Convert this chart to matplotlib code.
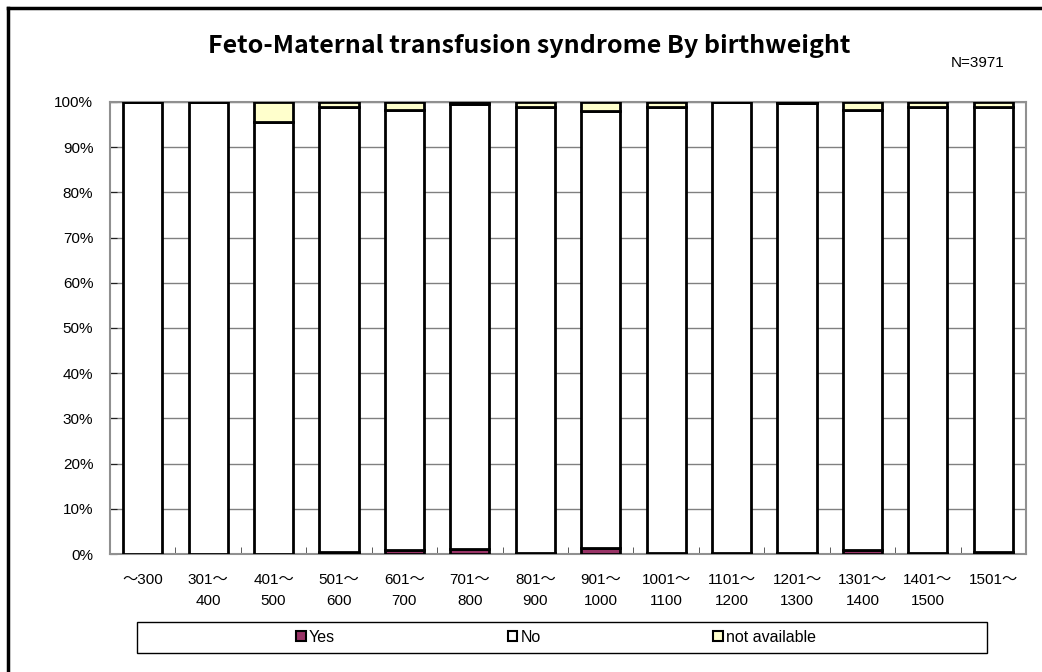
import numpy as np
import matplotlib.pyplot as plt
from matplotlib.lines import Line2D

# birthweight classes and percentages
categories = ['～300', '301～\n400', '401～\n500', '501～\n600', '601～\n700',
              '701～\n800', '801～\n900', '901～\n1000', '1001～\n1100',
              '1101～\n1200', '1201～\n1300', '1301～\n1400', '1401～\n1500', '1501～']
yes = [0, 0, 0, 0.4, 0.8, 1.1, 0.3, 1.4, 0.3, 0.2, 0.3, 0.9, 0.2, 0.5]
not_available = [0, 0, 4.4, 1.0, 1.8, 0.4, 1.0, 1.9, 1.0, 0, 0.3, 1.7, 1.2, 1.0]
no = [100 - y - n for y, n in zip(yes, not_available)]

fonts = ['Liberation Sans', 'Noto Sans CJK JP', 'DejaVu Sans']
plt.rcParams['font.family'] = fonts

fig = plt.figure(figsize=(10.42, 6.72), dpi=100)
ax = fig.add_axes([110 / 1042, 1 - 554 / 672, 916 / 1042, 452 / 672])

x = np.arange(len(categories))
w = 0.6
kw = dict(width=w, edgecolor='black', linewidth=2, zorder=3)
ax.bar(x, yes, color='#993366', label='Yes', **kw)
ax.bar(x, no, bottom=yes, color='white', label='No', **kw)
ax.bar(x, not_available, bottom=np.add(yes, no), color='#FFFFCC', label='not available', **kw)

ax.set_xlim(-0.5, len(categories) - 0.5)
ax.set_ylim(0, 100)
ax.set_yticks(np.arange(0, 101, 10))
ax.set_yticklabels([f'{v}%' for v in range(0, 101, 10)], fontsize=11)
ax.set_xticks(x)
ax.set_xticklabels(categories, fontsize=11, linespacing=1.6, va='top')
ax.tick_params(axis='x', which='major', length=0, pad=14)
ax.set_xticks(np.arange(0.5, len(categories) - 1, 1), minor=True)
ax.tick_params(axis='x', which='minor', direction='in', length=5, color='#404040')
ax.tick_params(axis='y', direction='in', length=5, color='#202020', pad=12)
ax.grid(axis='y', color='#808080', linewidth=1, zorder=0)
for s in ax.spines.values():
    s.set_color('#909090')
    s.set_linewidth(1.5)

fig.text(0.508, 0.932, 'Feto-Maternal transfusion syndrome By birthweight',
         ha='center', va='center', fontsize=18, fontweight='bold',
         family=['Noto Sans CJK JP', 'DejaVu Sans'])
fig.text(978 / 1042, 1 - 63 / 672, 'N=3971', ha='center', va='center', fontsize=11)

# legend box
fig.add_artist(plt.Rectangle((137 / 1042, 1 - 653 / 672), 850 / 1042, 31 / 672,
                             transform=fig.transFigure, facecolor='white',
                             edgecolor='black', linewidth=1))
handles = [plt.Rectangle((0, 0), 1, 1, facecolor=c, edgecolor='black', linewidth=1.5)
           for c in ['#993366', 'white', '#FFFFCC']]
fig.legend(handles, ['Yes', 'No', 'not available'], ncol=3,
           bbox_to_anchor=(556 / 1042, 1 - 637.5 / 672), loc='center',
           fontsize=11.5, handlelength=0.6, handleheight=0.6, handletextpad=0.2,
           columnspacing=10.8, frameon=False, borderaxespad=0)

# outer chart frame (top and left edges visible)
fig.add_artist(Line2D([8 / 1042, 8 / 1042], [0, 1 - 8 / 672], transform=fig.transFigure,
                      color='black', linewidth=2.5))
fig.add_artist(Line2D([8 / 1042, 1], [1 - 8 / 672, 1 - 8 / 672], transform=fig.transFigure,
                      color='black', linewidth=2.5))

fig.savefig('out.png')
